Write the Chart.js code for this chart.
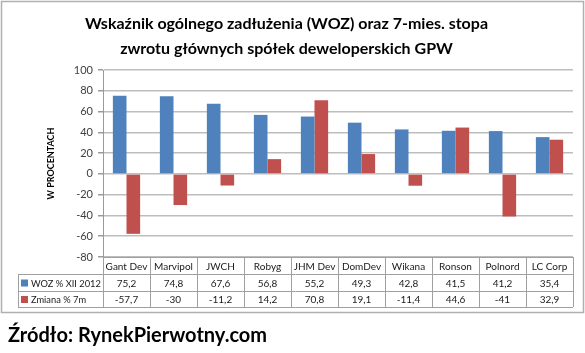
<!DOCTYPE html>
<html>
<head>
<meta charset="utf-8">
<script src="https://cdn.jsdelivr.net/npm/chart.js@4/dist/chart.umd.min.js"></script>
<style>
  html, body { margin: 0; padding: 0; background: #ffffff; }
  #wrap { width: 585px; height: 353px; position: relative; }
</style>
</head>
<body>
<div id="wrap"><canvas id="c" width="585" height="353"></canvas></div>
<script>
const titleLines = ['Wskaźnik ogólnego zadłużenia (WOZ) oraz 7-mies. stopa', 'zwrotu głównych spółek deweloperskich GPW'];
const yAxisTitle = 'W PROCENTACH';
const sourceText = 'Źródło: RynekPierwotny.com';
const categories = ['Gant Dev', 'Marvipol', 'JWCH', 'Robyg', 'JHM Dev', 'DomDev', 'Wikana', 'Ronson', 'Polnord', 'LC Corp'];
const seriesNames = ['WOZ % XII 2012', 'Zmiana % 7m'];
const wozValues = [75.2, 74.8, 67.6, 56.8, 55.2, 49.3, 42.8, 41.5, 41.2, 35.4];
const zmianaValues = [-57.7, -30, -11.2, 14.2, 70.8, 19.1, -11.4, 44.6, -41, 32.9];
const yMin = -80, yMax = 100, yStep = 20;

const seriesColors = ['#4F81BD', '#C0504D'];
const FONT = 'Lato, "Liberation Sans", sans-serif';

function fmt(v) { return String(v).replace('.', ','); }

const framePlugin = {
  id: 'frame',
  beforeDraw(chart) {
    const ctx = chart.ctx;
    ctx.save();
    ctx.fillStyle = '#ffffff';
    ctx.fillRect(0, 0, chart.width, chart.height);
    ctx.strokeStyle = '#b0b0b0';
    ctx.lineWidth = 1.5;
    ctx.strokeRect(1.5, 1.5, 582, 311);
    ctx.restore();
  }
};

const tablePlugin = {
  id: 'dataTable',
  afterDraw(chart) {
    const ctx = chart.ctx;
    const ca = chart.chartArea;
    const xs = chart.scales.x;
    const n = categories.length;
    const colW = (ca.right - ca.left) / n;
    const legendLeft = 18;
    const rowTops = [ca.bottom, ca.bottom + 17, ca.bottom + 34, ca.bottom + 50];
    ctx.save();
    ctx.strokeStyle = '#a0a0a0';
    ctx.lineWidth = 1;
    ctx.beginPath();
    ctx.moveTo(ca.left, rowTops[0] + 0.5); ctx.lineTo(ca.right, rowTops[0] + 0.5);
    for (let r = 1; r < rowTops.length; r++) {
      ctx.moveTo(legendLeft, rowTops[r] + 0.5); ctx.lineTo(ca.right, rowTops[r] + 0.5);
    }
    ctx.moveTo(legendLeft + 0.5, rowTops[1]); ctx.lineTo(legendLeft + 0.5, rowTops[3]);
    for (let k = 0; k <= n; k++) {
      const x = Math.round(ca.left + k * colW) + 0.5;
      ctx.moveTo(x, rowTops[0]); ctx.lineTo(x, rowTops[3]);
    }
    ctx.stroke();

    ctx.font = '10px ' + FONT;
    ctx.fillStyle = '#1a1a1a';
    ctx.textAlign = 'center';
    ctx.textBaseline = 'middle';
    const rowsVals = [wozValues, zmianaValues];
    for (let i = 0; i < n; i++) {
      const cx = xs.getPixelForValue(i);
      ctx.fillText(categories[i], cx, (rowTops[0] + rowTops[1]) / 2 + 1);
      for (let r = 0; r < 2; r++) {
        ctx.fillText(fmt(rowsVals[r][i]), cx, (rowTops[r + 1] + rowTops[r + 2]) / 2 + 1);
      }
    }
    ctx.textAlign = 'left';
    ctx.font = '9.3px ' + FONT;
    for (let r = 0; r < 2; r++) {
      const cy = (rowTops[r + 1] + rowTops[r + 2]) / 2;
      ctx.fillStyle = seriesColors[r];
      ctx.fillRect(legendLeft + 3, cy - 3, 7, 7);
      ctx.fillStyle = '#1a1a1a';
      ctx.fillText(seriesNames[r], legendLeft + 13, cy + 1);
    }

    ctx.font = 'bold 20px ' + FONT;
    ctx.fillStyle = '#000000';
    ctx.textAlign = 'left';
    ctx.textBaseline = 'alphabetic';
    ctx.fillText(sourceText, 8, 342);
    ctx.restore();
  }
};

new Chart(document.getElementById('c'), {
  type: 'bar',
  data: {
    labels: categories,
    datasets: [
      { label: seriesNames[0], data: wozValues, backgroundColor: seriesColors[0], categoryPercentage: 0.58, barPercentage: 1.0 },
      { label: seriesNames[1], data: zmianaValues, backgroundColor: seriesColors[1], categoryPercentage: 0.58, barPercentage: 1.0 }
    ]
  },
  options: {
    responsive: false,
    devicePixelRatio: 1,
    animation: false,
    layout: { padding: { left: 0, right: 12, top: 0, bottom: 96 } },
    plugins: {
      legend: { display: false },
      tooltip: { enabled: false },
      title: {
        display: true,
        text: titleLines,
        color: '#000000',
        font: { family: FONT, size: 16, weight: 'bold', lineHeight: 1.5625 },
        padding: { top: 11.5, bottom: 8.5 }
      }
    },
    scales: {
      x: { display: false, offset: true },
      y: {
        min: yMin, max: yMax,
        ticks: { stepSize: yStep, color: '#404040', font: { family: FONT, size: 11 }, padding: 5 },
        grid: { color: '#bdbdbd', lineWidth: 1.5, tickLength: 5, tickColor: '#9a9a9a' },
        border: { display: true, color: '#9a9a9a', width: 1 },
        title: { display: true, text: yAxisTitle, color: '#000000', font: { family: FONT, size: 9, weight: 'bold' }, padding: { top: 46, bottom: 0 } },
        afterFit(scale) { scale.width = 103; }
      }
    }
  },
  plugins: [framePlugin, tablePlugin]
});
</script>
</body>
</html>
